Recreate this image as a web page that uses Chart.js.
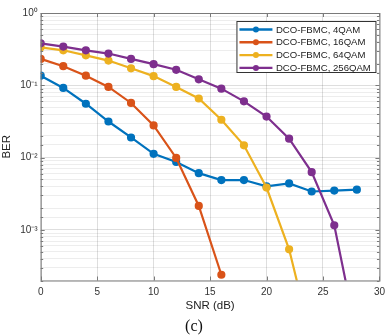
<!DOCTYPE html>
<html>
<head>
<meta charset="utf-8">
<script src="https://cdn.jsdelivr.net/npm/chart.js@4.4.0/dist/chart.umd.min.js"></script>
<style>
  body { margin: 0; background: #fff; }
  #wrap { width: 391px; height: 335px; }
</style>
</head>
<body>
<div id="wrap"><canvas id="berChart" width="391" height="335"></canvas></div>
<script>
    // SNR points (dB) and BER
    const snr = [0, 2, 4, 6, 8, 10, 12, 14, 16, 18, 20, 22, 24, 26, 28];
    const ber4qam = [0.136, 0.092, 0.0556, 0.0316, 0.019, 0.0113, 0.0087, 0.0061, 0.0049, 0.0049, 0.0040, 0.0044, 0.0034, 0.0035, 0.0036];
    const ber16qam = [0.232, 0.184, 0.136, 0.095, 0.057, 0.0279, 0.0099, 0.00215, 0.00024];
    const ber64qam = [0.335, 0.305, 0.26, 0.22, 0.172, 0.134, 0.095, 0.0657, 0.0334, 0.0148, 0.00386, 0.00054, 0.000029];
    const ber256qam = [0.381, 0.343, 0.305, 0.275, 0.232, 0.196, 0.164, 0.121, 0.090, 0.060, 0.037, 0.0183, 0.0063, 0.00116, 0.000034];

    const seriesLabels = ["DCO-FBMC, 4QAM", "DCO-FBMC, 16QAM", "DCO-FBMC, 64QAM", "DCO-FBMC, 256QAM"];
    const seriesColors = ["#0072BD", "#D95319", "#EDB120", "#7E2F8E"];
    const seriesValues = [ber4qam, ber16qam, ber64qam, ber256qam];

    const xTicks = [0, 5, 10, 15, 20, 25, 30];
    const supDigits = { "0": "\u2070", "1": "\u00B9", "2": "\u00B2", "3": "\u00B3", "-": "\u207B" };

    const axisGray = "#7a7a7a";

    function isDecade(v) {
      const l = Math.log10(v);
      return Math.abs(l - Math.round(l)) < 1e-9;
    }

    // Box around the axes plus MATLAB-style inward ticks
    const axesBox = {
      id: "axesBox",
      afterDatasetsDraw(chart) {
        const { ctx, chartArea: a, scales } = chart;
        ctx.save();
        ctx.strokeStyle = axisGray;
        ctx.lineWidth = 1;
        ctx.strokeRect(a.left + 0.5, a.top + 0.5, a.right - a.left, a.bottom - a.top);
        ctx.beginPath();
        scales.y.ticks.forEach(t => {
          const py = Math.round(scales.y.getPixelForValue(t.value)) + 0.5;
          const len = isDecade(t.value) ? 4 : 2.5;
          ctx.moveTo(a.left, py); ctx.lineTo(a.left + len, py);
          ctx.moveTo(a.right, py); ctx.lineTo(a.right - len, py);
        });
        scales.x.ticks.forEach(t => {
          const px = Math.round(scales.x.getPixelForValue(t.value)) + 0.5;
          ctx.moveTo(px, a.bottom); ctx.lineTo(px, a.bottom - 4);
          ctx.moveTo(px, a.top); ctx.lineTo(px, a.top + 4);
        });
        ctx.stroke();
        ctx.restore();
      }
    };

    // Legend in a framed box, top right of the axes
    const boxLegend = {
      id: "boxLegend",
      afterDraw(chart) {
        const { ctx, chartArea: a } = chart;
        const right = a.right - 4, top = a.top + 8;
        const w = 139, h = 51;
        const left = right - w;
        ctx.save();
        ctx.fillStyle = "#fff";
        ctx.fillRect(left, top, w, h);
        ctx.strokeStyle = "#333";
        ctx.lineWidth = 1;
        ctx.strokeRect(left + 0.5, top + 0.5, w, h);
        ctx.font = "9.6px 'Liberation Sans', Arial, sans-serif";
        ctx.textBaseline = "middle";
        chart.data.datasets.forEach((ds, i) => {
          const y = top + 8.5 + i * 12.8;
          ctx.strokeStyle = ds.borderColor;
          ctx.lineWidth = 2.4;
          ctx.beginPath();
          ctx.moveTo(left + 3, y);
          ctx.lineTo(left + 36, y);
          ctx.stroke();
          ctx.fillStyle = ds.borderColor;
          ctx.beginPath();
          ctx.arc(left + 19.5, y, 3, 0, Math.PI * 2);
          ctx.fill();
          ctx.fillStyle = "#222";
          ctx.fillText(ds.label, left + 39.5, y + 0.5);
        });
        ctx.restore();
      }
    };

    // Sub-figure caption
    const caption = {
      id: "caption",
      afterDraw(chart) {
        const ctx = chart.ctx;
        ctx.save();
        ctx.font = "16px 'Liberation Serif', 'Times New Roman', serif";
        ctx.fillStyle = "#111";
        ctx.textAlign = "center";
        ctx.textBaseline = "middle";
        ctx.fillText("(c)", 194, 327);
        ctx.restore();
      }
    };

    const datasets = seriesValues.map((vals, i) => ({
      label: seriesLabels[i],
      data: vals.map((v, k) => ({ x: snr[k], y: v })),
      borderColor: seriesColors[i],
      backgroundColor: seriesColors[i],
      borderWidth: 2.2,
      pointRadius: 3,
      pointStyle: "circle",
      tension: 0,
      order: 4 - i
    }));

    const ctx = document.getElementById("berChart").getContext("2d");
    const chart = new Chart(ctx, {
      type: "line",
      data: { datasets },
      plugins: [axesBox, boxLegend, caption],
      options: {
        responsive: false,
        animation: false,
        layout: { padding: { top: 13, right: 10, bottom: 22, left: 0 } },
        plugins: {
          legend: { display: false },
          tooltip: { enabled: false }
        },
        scales: {
          x: {
            type: "linear",
            min: 0,
            max: 30,
            afterBuildTicks: scale => { scale.ticks = xTicks.map(v => ({ value: v })); },
            afterFit: scale => { scale.height = 32.5; },
            grid: { color: "rgba(0,0,0,0.13)", drawTicks: false },
            border: { display: false },
            ticks: {
              padding: 6,
              color: "#333",
              font: { family: "'Liberation Sans', Arial, sans-serif", size: 10 }
            },
            title: {
              display: true,
              text: "SNR (dB)",
              color: "#222",
              padding: 0,
              font: { family: "'Liberation Sans', Arial, sans-serif", size: 11.5 }
            }
          },
          y: {
            type: "logarithmic",
            min: 2e-4,
            max: 1,
            afterFit: scale => { scale.width = 40.7; },
            grid: {
              drawTicks: false,
              color: c => isDecade(c.tick.value) ? "rgba(0,0,0,0.13)" : "rgba(0,0,0,0.07)"
            },
            border: { display: false },
            ticks: {
              autoSkip: false,
              padding: 3,
              color: "#333",
              font: { family: "'Liberation Sans', Arial, sans-serif", size: 10 },
              callback: v => {
                if (!isDecade(v)) return "";
                const e = String(Math.round(Math.log10(v)));
                return "10" + e.split("").map(ch => supDigits[ch]).join("");
              }
            },
            title: {
              display: true,
              text: "BER",
              color: "#222",
              padding: 0,
              font: { family: "'Liberation Sans', Arial, sans-serif", size: 11.5 }
            }
          }
        }
      }
    });
</script>
</body>
</html>
